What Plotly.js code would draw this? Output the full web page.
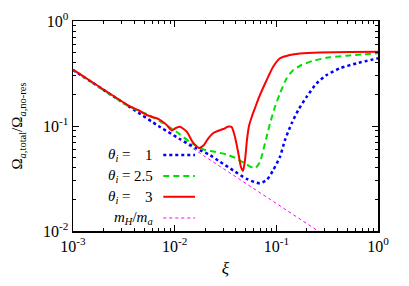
<!DOCTYPE html>
<html>
<head>
<meta charset="utf-8">
<script src="https://cdn.plot.ly/plotly-3.0.1.min.js"></script>
<style>html,body{margin:0;padding:0;background:#fff;}#plot{width:409px;height:286px;}</style>
</head>
<body>
<div id="plot"></div>
<script>
// theta_i = 3 (red, solid)
var xiTheta3 = [0.001, 0.001845, 0.00364, 0.004355, 0.00531, 0.00599, 0.00666, 0.00745, 0.00835, 0.00935, 0.0103, 0.01128, 0.01313, 0.01524, 0.01733, 0.0194, 0.02142, 0.0240, 0.02687, 0.03008, 0.03367, 0.03635, 0.0392, 0.04227, 0.04488, 0.04699, 0.0492, 0.05143, 0.05383, 0.05727, 0.0617, 0.06905, 0.0804, 0.0927, 0.1086, 0.1362, 0.1709, 0.2687, 0.5297, 1.0];
var omTheta3 = [0.345, 0.234, 0.1534, 0.142, 0.1272, 0.1219, 0.1184, 0.1116, 0.1022, 0.0906, 0.0957, 0.0985, 0.0883, 0.0689, 0.0617, 0.0659, 0.0764, 0.0858, 0.0902, 0.0936, 0.0989, 0.0978, 0.0786, 0.0553, 0.0407, 0.0373, 0.0475, 0.0736, 0.100, 0.1219, 0.1484, 0.1974, 0.2743, 0.3647, 0.4414, 0.4745, 0.490, 0.5012, 0.507, 0.509];
// theta_i = 2.5 (green, dashed)
var xiTheta25 = [0.001, 0.00364, 0.00531, 0.00773, 0.01047, 0.01416, 0.01914, 0.0240, 0.0325, 0.0408, 0.0511, 0.0617, 0.0690, 0.0744, 0.0804, 0.0867, 0.0971, 0.1086, 0.1264, 0.1469, 0.1775, 0.2307, 0.3371, 0.492, 0.7166, 1.0];
var omTheta25 = [0.343, 0.1517, 0.1301, 0.1061, 0.0877, 0.0704, 0.0598, 0.0572, 0.0535, 0.049, 0.043, 0.0395, 0.0454, 0.0591, 0.0791, 0.1061, 0.1527, 0.2048, 0.2847, 0.3415, 0.3811, 0.4188, 0.4511, 0.4674, 0.4819, 0.4925];
// theta_i = 1 (blue, dotted)
var xiTheta1 = [0.001, 0.00364, 0.00718, 0.01128, 0.01648, 0.02225, 0.0279, 0.03776, 0.0511, 0.0641, 0.0690, 0.0804, 0.0933, 0.1086, 0.1216, 0.1416, 0.1644, 0.199, 0.2495, 0.3127, 0.4227, 0.6166, 1.0];
var omTheta1 = [0.3414, 0.151, 0.0978, 0.0752, 0.061, 0.0529, 0.0457, 0.0377, 0.0313, 0.0288, 0.0285, 0.0306, 0.0381, 0.051, 0.0736, 0.1061, 0.142, 0.1901, 0.2551, 0.306, 0.3545, 0.3955, 0.4414];
// m_H / m_a (magenta, fine dotted)
var xiRatio = [0.001, 0.01, 0.1, 1.0];
var omRatio = [0.345, 0.0791, 0.0182, 0.00421];

var legendNames = ['1', '2.5', '3'];
var tickVals = [0.001, 0.01, 0.1, 1];
var tickTextX = ['10<sup>-3</sup>', '10<sup>-2</sup>', '10<sup>-1</sup>', '10<sup>0</sup>'];
var tickValsY = [0.01, 0.1, 1];
var tickTextY = ['10<sup>-2</sup>', '10<sup>-1</sup>', '10<sup>0</sup>'];

var serif = 'Liberation Serif';

var traces = [
  {x: xiRatio, y: omRatio, mode: 'lines', line: {color: '#ff00ff', width: 1, dash: 'dot'}, showlegend: false},
  {x: xiTheta1, y: omTheta1, mode: 'lines', line: {color: '#0000ff', width: 2.5, dash: 'dot', shape: 'spline', smoothing: 0.6}, showlegend: false},
  {x: xiTheta25, y: omTheta25, mode: 'lines', line: {color: '#00e000', width: 2, dash: '6px,4px', shape: 'spline', smoothing: 0.6}, showlegend: false},
  {x: xiTheta3, y: omTheta3, mode: 'lines', line: {color: '#ff0000', width: 2, shape: 'spline', smoothing: 0.6}, showlegend: false}
];

var rowY = [0.362, 0.262, 0.163, 0.062];
var annotations = [];
var shapes = [];
var sampleStyles = [
  {color: '#0000ff', width: 2.5, dash: 'dot'},
  {color: '#00e000', width: 2, dash: '6px,4px'},
  {color: '#ff0000', width: 2, dash: 'solid'},
  {color: '#ff00ff', width: 1, dash: 'dot'}
];
for (var i = 0; i < 3; i++) {
  annotations.push({xref: 'paper', yref: 'paper', x: 0.198, y: rowY[i], xanchor: 'right', yanchor: 'middle', showarrow: false,
    text: '<i>θ</i><sub><i>i</i></sub> =', font: {family: serif, size: 15, color: '#000'}});
  annotations.push({xref: 'paper', yref: 'paper', x: 0.27, y: rowY[i], xanchor: 'right', yanchor: 'middle', showarrow: false,
    text: legendNames[i], font: {family: serif, size: 15, color: '#000'}});
}
annotations.push({xref: 'paper', yref: 'paper', x: 0.27, y: rowY[3], xanchor: 'right', yanchor: 'middle', showarrow: false,
  text: '<i>m</i><sub><i>H</i></sub>/<i>m</i><sub><i>a</i></sub>', font: {family: serif, size: 15, color: '#000'}});
for (var j = 0; j < 4; j++) {
  shapes.push({type: 'line', xref: 'paper', yref: 'paper', x0: 0.296, x1: 0.40, y0: rowY[j], y1: rowY[j], line: sampleStyles[j]});
}

var axisCommon = {
  type: 'log', showgrid: false, zeroline: false, showline: true, linecolor: '#000', linewidth: 1.5,
  mirror: 'ticks', ticks: 'inside', ticklen: 6, tickcolor: '#000', tickwidth: 1,
  tickmode: 'array', tickfont: {family: serif, size: 16, color: '#000'},
  minor: {ticks: 'inside', ticklen: 3, tickcolor: '#000', tickwidth: 1, dtick: 'D1', showgrid: false}
};

var layout = {
  width: 409, height: 286,
  margin: {l: 73, r: 31, t: 21, b: 55},
  paper_bgcolor: '#fff', plot_bgcolor: '#fff',
  font: {family: serif, color: '#000'},
  showlegend: false,
  xaxis: Object.assign({}, axisCommon, {
    range: [-3, 0], tickvals: tickVals, ticktext: tickTextX,
    title: {text: '<i>ξ</i>', font: {family: serif, size: 17, color: '#000'}, standoff: 8}
  }),
  yaxis: Object.assign({}, axisCommon, {
    range: [-2, 0], tickvals: tickValsY, ticktext: tickTextY,
    title: {text: 'Ω<sub><i>a</i>,total</sub>/Ω<sub><i>a</i>,no-res</sub>', font: {family: serif, size: 15, color: '#000'}, standoff: 16}
  }),
  annotations: annotations,
  shapes: shapes
};

Plotly.newPlot('plot', traces, layout, {staticPlot: true, displayModeBar: false});
</script>
</body>
</html>
